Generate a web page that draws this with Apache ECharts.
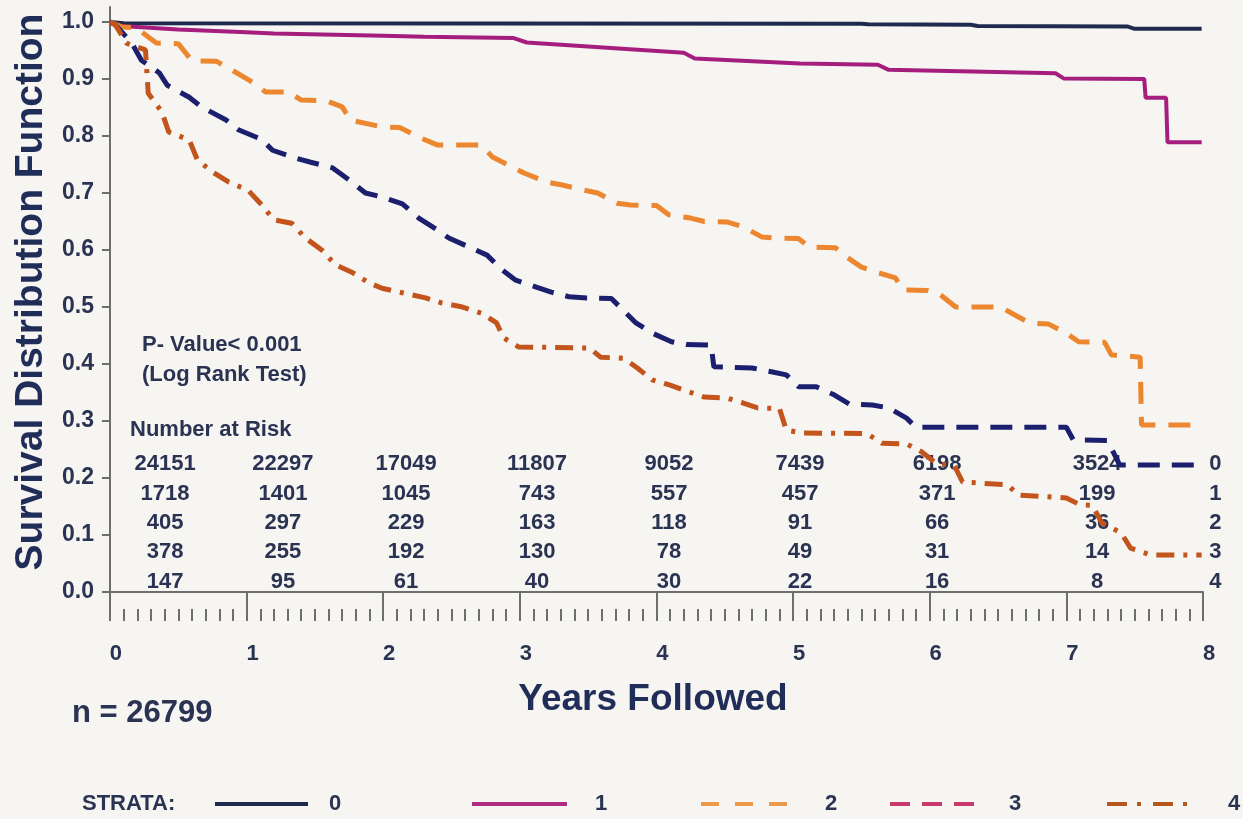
<!DOCTYPE html>
<html><head><meta charset="utf-8">
<script src="https://cdn.jsdelivr.net/npm/echarts@6/dist/echarts.min.js"></script>
<style>html,body{margin:0;padding:0;background:#f6f5f2}#c{width:1243px;height:819px}</style>
</head><body><div id="c"></div>
<script>
// ---------- data ----------
const strata = ['0', '1', '2', '3', '4'];
const xTicks = [0, 1, 2, 3, 4, 5, 6, 7, 8];
const yTicks = [0, 0.1, 0.2, 0.3, 0.4, 0.5, 0.6, 0.7, 0.8, 0.9, 1.0];
const s0 = [[0,1.0],[0.1,0.998],[5.5,0.997],[5.55,0.996],[6.3,0.995],[6.35,0.993],[7.45,0.992],[7.5,0.988],[7.99,0.988]];
const s1 = [[0,1.0],[0.08,0.993],[0.5,0.987],[1.0,0.982],[1.2,0.980],[2.0,0.976],[2.3,0.974],[2.95,0.972],[3.05,0.964],[4.2,0.946],[4.28,0.936],[5.05,0.927],[5.62,0.925],[5.7,0.916],[6.92,0.910],[6.98,0.901],[7.57,0.900],[7.58,0.867],[7.73,0.867],[7.74,0.789],[7.99,0.789]];
const s2 = [[0,1.0],[0.09,0.991],[0.19,0.99],[0.34,0.963],[0.5,0.962],[0.6,0.932],[0.78,0.931],[0.89,0.916],[1.04,0.895],[1.14,0.877],[1.31,0.877],[1.4,0.863],[1.58,0.862],[1.7,0.851],[1.76,0.828],[1.99,0.816],[2.12,0.815],[2.26,0.798],[2.4,0.784],[2.72,0.784],[2.8,0.763],[2.94,0.746],[3.03,0.735],[3.2,0.719],[3.31,0.714],[3.47,0.705],[3.57,0.7],[3.71,0.682],[3.81,0.679],[4.0,0.678],[4.09,0.662],[4.25,0.656],[4.35,0.65],[4.52,0.649],[4.63,0.641],[4.77,0.623],[4.88,0.621],[5.04,0.62],[5.12,0.605],[5.31,0.604],[5.39,0.588],[5.5,0.570],[5.61,0.561],[5.75,0.551],[5.8,0.53],[5.98,0.529],[6.08,0.521],[6.19,0.5],[6.52,0.5],[6.6,0.489],[6.73,0.472],[6.87,0.470],[7.0,0.454],[7.09,0.439],[7.28,0.438],[7.33,0.416],[7.54,0.412],[7.55,0.293],[7.99,0.293]];
const s3 = [[0,1.0],[0.04,0.995],[0.16,0.963],[0.23,0.933],[0.36,0.911],[0.42,0.889],[0.58,0.868],[0.67,0.851],[0.85,0.828],[0.94,0.811],[1.11,0.794],[1.19,0.775],[1.36,0.761],[1.47,0.754],[1.63,0.744],[1.75,0.723],[1.87,0.7],[1.99,0.693],[2.14,0.681],[2.26,0.656],[2.39,0.636],[2.48,0.621],[2.64,0.604],[2.76,0.591],[2.87,0.565],[2.97,0.547],[3.12,0.535],[3.23,0.526],[3.36,0.518],[3.49,0.516],[3.67,0.515],[3.74,0.498],[3.85,0.472],[3.97,0.454],[4.11,0.439],[4.22,0.434],[4.4,0.433],[4.42,0.395],[4.7,0.393],[4.85,0.386],[4.95,0.381],[5.04,0.36],[5.17,0.36],[5.3,0.346],[5.41,0.33],[5.58,0.328],[5.7,0.323],[5.83,0.305],[5.9,0.289],[7.0,0.289],[7.05,0.267],[7.3,0.266],[7.39,0.223],[7.99,0.223]];
const s4 = [[0,1.0],[0.04,0.995],[0.12,0.963],[0.26,0.951],[0.28,0.875],[0.38,0.842],[0.43,0.807],[0.58,0.793],[0.64,0.758],[0.75,0.737],[0.87,0.719],[1.01,0.705],[1.1,0.682],[1.2,0.653],[1.33,0.647],[1.43,0.621],[1.55,0.6],[1.65,0.574],[1.77,0.561],[1.9,0.542],[1.99,0.533],[2.14,0.525],[2.31,0.516],[2.43,0.507],[2.58,0.5],[2.72,0.489],[2.83,0.472],[2.88,0.446],[2.99,0.43],[3.51,0.428],[3.59,0.412],[3.76,0.41],[3.86,0.393],[3.97,0.372],[4.1,0.363],[4.24,0.351],[4.35,0.342],[4.52,0.34],[4.63,0.332],[4.74,0.323],[4.9,0.322],[4.95,0.284],[5.06,0.279],[5.54,0.278],[5.65,0.261],[5.83,0.26],[5.94,0.246],[6.05,0.225],[6.18,0.222],[6.24,0.193],[6.57,0.188],[6.65,0.17],[7.0,0.165],[7.1,0.153],[7.19,0.152],[7.26,0.121],[7.4,0.104],[7.47,0.077],[7.62,0.065],[7.99,0.065]];
const riskCounts0 = [24151, 22297, 17049, 11807, 9052, 7439, 6198, 3524];
const riskCounts1 = [1718, 1401, 1045, 743, 557, 457, 371, 199];
const riskCounts2 = [405, 297, 229, 163, 118, 91, 66, 36];
const riskCounts3 = [378, 255, 192, 130, 78, 49, 31, 14];
const riskCounts4 = [147, 95, 61, 40, 30, 22, 16, 8];

// ---------- layout / style ----------
const riskRows = [riskCounts0, riskCounts1, riskCounts2, riskCounts3, riskCounts4];
const riskColX = [0.403, 1.266, 2.167, 3.126, 4.092, 5.051, 6.054, 7.225];
const riskRowY = [0.2246, 0.1719, 0.1211, 0.0702, 0.0175];
const riskLabelX = 8.09;
const FONT = "'Liberation Sans', Arial, Helvetica, sans-serif";
const TXT = '#2a3352';
const TITLE = '#1f2d58';
const AXIS = '#6e6e6e';
const colors = ['#1e2b4f', '#a51e7e', '#ec8730', '#1b1f6e', '#c2541c'];
const dashes = ['solid', 'solid', [22, 13], [22, 12], [18, 9, 4, 9]];
const widths = [4, 4, 5, 5, 5];
const series = [s0, s1, s2, s3, s4];
// legend (drawn as graphic keys)
const legendLeft = [215, 472, 701, 890, 1107];
const legendW = [93, 95, 86, 84, 87];
const legendTextX = [335, 601, 831, 1015, 1234];
const legendColors = ['#1e2b4f', '#b02a80', '#eb9a4a', '#c8386c', '#b5561f'];
const legendDash = [null, null, [18, 16], [20, 12], [20, 10, 4, 12]];
const legendY = 804;

const minor = [];
for (let i = 0; i <= 80; i++) minor.push(i / 10);

const chart = echarts.init(document.getElementById('c'), null, {renderer: 'canvas'});
const option = {
  backgroundColor: '#f6f5f2',
  animation: false,
  textStyle: {fontFamily: FONT},
  grid: {left: 103, top: 7, width: 1100, height: 602, containLabel: false},
  xAxis: [{
    type: 'value', min: -0.051, max: 8,
    axisLine: {show: true, lineStyle: {color: AXIS, width: 2}},
    axisTick: {show: true, customValues: xTicks, length: 19, lineStyle: {color: AXIS, width: 2}},
    axisLabel: {customValues: xTicks, margin: 34, fontSize: 22, fontWeight: 'bold', color: TXT, fontFamily: FONT, padding: [0, 0, 0, 12]},
    splitLine: {show: false},
    name: 'Years Followed', nameLocation: 'middle', nameGap: 72,
    nameTextStyle: {fontSize: 37, fontWeight: 'bold', color: TITLE, fontFamily: FONT}
  }, {
    type: 'value', min: -0.051, max: 8, position: 'bottom',
    axisLine: {show: false},
    axisTick: {show: true, customValues: minor, length: 12, lineStyle: {color: AXIS, width: 2}},
    axisLabel: {show: false}, splitLine: {show: false}
  }],
  yAxis: [{
    type: 'value', min: -0.0298, max: 1.0263,
    axisLine: {show: true, lineStyle: {color: AXIS, width: 2}},
    axisTick: {show: true, customValues: yTicks, length: 8, lineStyle: {color: AXIS, width: 2}},
    axisLabel: {customValues: yTicks, margin: 9, fontSize: 23, fontWeight: 'bold', color: TXT, fontFamily: FONT,
      formatter: v => v.toFixed(1)},
    splitLine: {show: false}
  }],
  series: series.map((d, i) => ({
    name: strata[i], type: 'line', data: d, xAxisIndex: 0, yAxisIndex: 0,
    symbol: 'none', showSymbol: false, z: 3,
    lineStyle: {color: colors[i], width: widths[i], type: dashes[i], cap: 'butt'},
    itemStyle: {color: colors[i]}
  }))
};
chart.setOption(option);

const g = [];
const txt = (x, y, text, size, align, extra) => Object.assign({
  type: 'text', x: x, y: y, z: 1, silent: true,
  style: {text: text, fill: TXT, font: 'bold ' + size + 'px ' + FONT,
    textAlign: align, textVerticalAlign: 'middle', align: align, verticalAlign: 'middle'}
}, extra || {});
riskRows.forEach((row, r) => {
  row.forEach((v, c) => {
    const p = chart.convertToPixel({xAxisIndex: 0, yAxisIndex: 0}, [riskColX[c], riskRowY[r]]);
    g.push(txt(p[0], p[1], String(v), 22, 'center'));
  });
  const q = chart.convertToPixel({xAxisIndex: 0, yAxisIndex: 0}, [riskLabelX, riskRowY[r]]);
  g.push(txt(q[0], q[1], strata[r], 22, 'center'));
});
g.push(txt(130, 430, 'Number at Risk', 22, 'left'));
g.push(txt(142, 345, 'P- Value< 0.001', 22, 'left'));
g.push(txt(142, 375, '(Log Rank Test)', 22, 'left'));
g.push(txt(72, 713, 'n = 26799', 31, 'left'));
g.push(txt(82, legendY, 'STRATA:', 22, 'left'));
strata.forEach((s, i) => {
  const st = {stroke: legendColors[i], lineWidth: 4};
  if (legendDash[i]) st.lineDash = legendDash[i];
  g.push({type: 'line', silent: true, z: 1,
    shape: {x1: legendLeft[i], y1: legendY, x2: legendLeft[i] + legendW[i], y2: legendY}, style: st});
  g.push(txt(legendTextX[i], legendY, s, 22, 'center'));
});
const yt = txt(31, 292, 'Survival Distribution Function', 39, 'center', {rotation: Math.PI / 2});
yt.style.fill = TITLE;
g.push(yt);
chart.setOption({graphic: g});
</script>
</body></html>
